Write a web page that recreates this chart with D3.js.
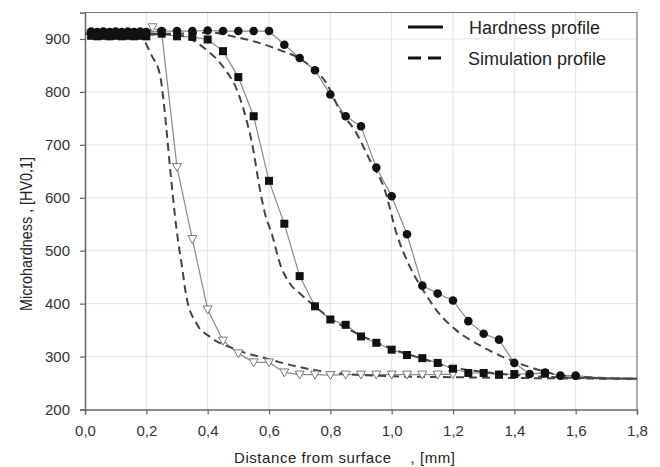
<!DOCTYPE html>
<html><head><meta charset="utf-8">
<script src="https://cdn.jsdelivr.net/npm/d3@7"></script>
<style>body{margin:0;background:#fff}svg{display:block;font-family:"Liberation Sans",Arial,sans-serif}</style>
</head><body><svg id="c" width="660" height="467"></svg>
<script>
const xTicks=[0,0.2,0.4,0.6,0.8,1.0,1.2,1.4,1.6,1.8];
const yTicks=[200,300,400,500,600,700,800,900];
const legendLabels=["Hardness profile","Simulation profile"];
const xTitle="Distance from surface    , [mm]";
const yTitle="Microhardness , [HV0,1]";

// measured hardness – triangles
const triX=[0.02,0.04,0.06,0.08,0.10,0.12,0.14,0.16,0.18,0.20,0.22,0.25,0.30,0.35,0.40,0.45,0.50,0.55,0.60,0.65,0.70,0.75,0.80,0.85,0.90,0.95,1.00,1.05,1.10,1.15,1.20];
const triY=[910,909,910,909,910,909,910,909,910,909,922,912,658,522,389,330,306,289,289,270,266,266,265,266,266,266,266,266,266,266,267];
// measured hardness – squares
const sqX=[0.02,0.04,0.06,0.08,0.10,0.12,0.14,0.16,0.18,0.20,0.25,0.30,0.35,0.40,0.45,0.50,0.55,0.60,0.65,0.70,0.75,0.80,0.85,0.90,0.95,1.00,1.05,1.10,1.15,1.20,1.25,1.30,1.35,1.40,1.50];
const sqY=[906,905,906,905,906,905,906,905,906,905,910,905,904,899,877,828,754,632,551,452,395,370,360,338,326,313,303,297,288,277,269,269,266,267,268];
// measured hardness – circles
const ciX=[0.02,0.04,0.06,0.08,0.10,0.12,0.14,0.16,0.18,0.20,0.25,0.30,0.35,0.40,0.45,0.50,0.55,0.60,0.65,0.70,0.75,0.80,0.85,0.90,0.95,1.00,1.05,1.10,1.15,1.20,1.25,1.30,1.35,1.40,1.45,1.50,1.55,1.60,1.70,1.80];
const ciY=[914,913,914,913,914,913,914,913,914,913,915,915,915,916,915,915,915,915,889,864,841,795,754,735,657,603,531,434,419,406,367,343,332,288,267,270,264,264,259,259];
const ciMarked=38; // markers drawn for the first 38 points

// simulation profiles (dashed)
const simAX=[0.00,0.18,0.196,0.217,0.245,0.256,0.267,0.277,0.288,0.299,0.315,0.331,0.364,0.408,0.484,0.593,0.70,0.80,1.00,1.20,1.50,1.80];
const simAY=[910,908,894,869,831,784,721,658,595,538,475,412,362,337,315,296,280,270,263,261,259,258];
const simBX=[0.00,0.30,0.342,0.397,0.451,0.50,0.527,0.549,0.565,0.587,0.609,0.636,0.668,0.701,0.745,0.80,0.90,1.00,1.10,1.20,1.30,1.40,1.60,1.80];
const simBY=[910,908,900,879,847,797,746,690,633,570,532,475,438,419,397,372,340,315,296,279,271,265,260,258];
const simCX=[0.00,0.30,0.418,0.473,0.56,0.636,0.69,0.744,0.788,0.831,0.88,0.929,0.978,1.016,1.06,1.103,1.147,1.212,1.288,1.364,1.451,1.53,1.60,1.80];
const simCY=[910,910,912,906,894,879,866,844,816,765,727,671,614,532,469,425,387,349,321,299,280,267,262,258];

const svg=d3.select("#c");
const L=85,R=637,T=12.5,B=409.5;
const x=d3.scaleLinear().domain([0,1.8]).range([L,R]);
const y=d3.scaleLinear().domain([200,950]).range([B,T]);

// grid
svg.append("g").selectAll("line").data(xTicks.slice(1,-1)).join("line")
 .attr("x1",d=>x(d)).attr("x2",d=>x(d)).attr("y1",T).attr("y2",B)
 .attr("stroke","#e3e3e3").attr("stroke-width",1);
svg.append("g").selectAll("line").data(yTicks.slice(1)).join("line")
 .attr("x1",L).attr("x2",R).attr("y1",d=>y(d)).attr("y2",d=>y(d))
 .attr("stroke","#e3e3e3").attr("stroke-width",1);
// frame top/right
svg.append("path").attr("d",`M${L},${T}H${R}V${B}`).attr("fill","none").attr("stroke","#777").attr("stroke-width",1.2);

// axes
const fmt=d=>d3.format(".1f")(d).replace(".",",");
const xa=svg.append("g").attr("transform",`translate(0,${B})`)
 .call(d3.axisBottom(x).tickValues(xTicks).tickFormat(fmt).tickSize(5).tickPadding(11));
const ya=svg.append("g").attr("transform",`translate(${L},0)`)
 .call(d3.axisLeft(y).tickValues(yTicks).tickSize(5).tickPadding(10));
[xa,ya].forEach(a=>{
 a.select(".domain").attr("stroke","#666").attr("stroke-width",1.5);
 a.selectAll(".tick line").attr("stroke","#666").attr("stroke-width",1.2);
 a.selectAll("text").attr("fill","#333").style("font-size","15px").style("font-family","'Liberation Sans',Arial,sans-serif");
});

const line=(xs,ys,curve)=>d3.line().x(i=>x(xs[i])).y(i=>y(ys[i])).curve(curve)(d3.range(xs.length));

// measured lines
[[triX,triY],[sqX,sqY],[ciX,ciY]].forEach(([xs,ys])=>{
 svg.append("path").attr("d",line(xs,ys,d3.curveLinear)).attr("fill","none")
  .attr("stroke","#8a8a8a").attr("stroke-width",1.2);
});
// simulation dashed
[[simAX,simAY],[simBX,simBY],[simCX,simCY]].forEach(([xs,ys])=>{
 svg.append("path").attr("d",line(xs,ys,d3.curveMonotoneX)).attr("fill","none")
  .attr("stroke","#444").attr("stroke-width",2).attr("stroke-dasharray","8,5");
});

// markers
svg.append("g").selectAll("path").data(d3.range(triX.length)).join("path")
 .attr("transform",i=>`translate(${x(triX[i])},${y(triY[i])})`)
 .attr("d","M-4.5,-3.5L4.5,-3.5L0,4.5Z").attr("fill","#fff").attr("stroke","#777").attr("stroke-width",1);
svg.append("g").selectAll("rect").data(d3.range(sqX.length)).join("rect")
 .attr("x",i=>x(sqX[i])-4).attr("y",i=>y(sqY[i])-4).attr("width",8).attr("height",8).attr("fill","#111");
svg.append("g").selectAll("circle").data(d3.range(ciMarked)).join("circle")
 .attr("cx",i=>x(ciX[i])).attr("cy",i=>y(ciY[i])).attr("r",4.3).attr("fill","#111");

// legend
const lg=svg.append("g");
lg.append("line").attr("x1",408).attr("x2",443).attr("y1",27).attr("y2",27).attr("stroke","#111").attr("stroke-width",3);
lg.append("line").attr("x1",408).attr("x2",444).attr("y1",58).attr("y2",58).attr("stroke","#111").attr("stroke-width",3).attr("stroke-dasharray","13,7");
lg.selectAll("text").data(legendLabels).join("text")
 .attr("x",(d,i)=>i?468:469).attr("y",(d,i)=>i?65:34).text(d=>d)
 .attr("fill","#222").style("font-size","18px");

// titles
svg.append("text").attr("x",234).attr("y",463)
 .attr("textLength",221).attr("lengthAdjust","spacing")
 .attr("fill","#222").style("font-size","15px").style("white-space","pre").text(xTitle);
svg.append("text").attr("transform","translate(32,234) rotate(-90)").attr("text-anchor","middle")
 .attr("textLength",154).attr("lengthAdjust","spacingAndGlyphs")
 .attr("fill","#222").style("font-size","16.5px").text(yTitle);
</script></body></html>
